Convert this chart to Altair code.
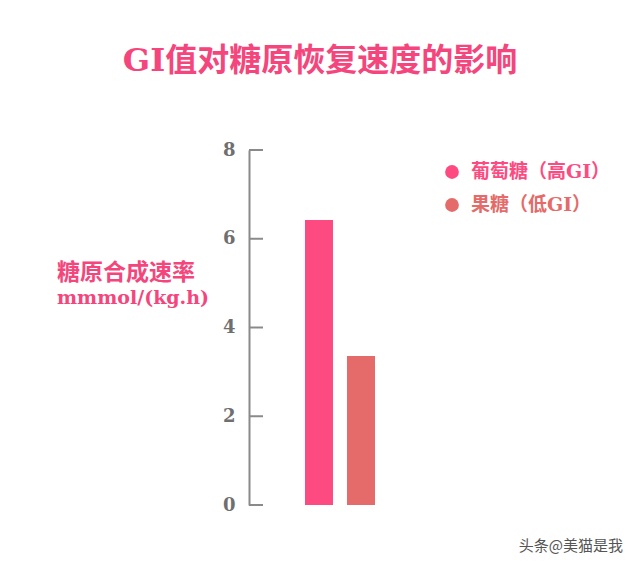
import altair as alt
import pandas as pd

categories = ["葡萄糖（高GI）", "果糖（低GI）"]
values = [6.42, 3.36]
colors = ["#FD4B82", "#E46B69"]
y_ticks = [0, 2, 4, 6, 8]

title_text = "GI值对糖原恢复速度的影响"
ylabel_lines = ["糖原合成速率", "mmmol/(kg.h)"]
watermark = "头条@美猫是我"

FONT = "DejaVu Serif, Noto Sans CJK SC"
PINK = "#F4467C"

df = pd.DataFrame({"cat": categories, "val": values})
ticks_df = pd.DataFrame({"t": y_ticks})

yscale = alt.Scale(domain=[0, 8], nice=False)
xscale = alt.Scale(domain=categories, range=[56, 126], paddingInner=1/3, paddingOuter=0)
cscale = alt.Scale(domain=categories, range=colors)

bars = alt.Chart(df).mark_bar().encode(
    x=alt.X("cat:N", scale=xscale, axis=None),
    y=alt.Y("val:Q", scale=yscale,
            axis=alt.Axis(values=y_ticks, title=None, grid=False, tickSize=0,
                          labelPadding=14, labelFont=FONT, labelFontWeight="bold",
                          labelFontSize=18, labelColor="#6f6f6f",
                          domainColor="#8a8a8a", domainWidth=2)),
    color=alt.Color("cat:N", scale=cscale, legend=None),
)

tick_rules = alt.Chart(ticks_df).mark_rule(color="#8a8a8a", strokeWidth=2).encode(
    y=alt.Y("t:Q", scale=yscale),
    x=alt.value(0), x2=alt.value(14),
)

layers = [bars, tick_rules]

# title
layers.append(alt.Chart(pd.DataFrame({"t": [title_text]})).mark_text(
    font=FONT, fontSize=32, fontWeight="bold", color=PINK, align="center", baseline="middle"
).encode(text="t:N", x=alt.value(71), y=alt.value(-89)))

# y label
for i, (line, fs) in enumerate(zip(ylabel_lines, [23, 19])):
    layers.append(alt.Chart(pd.DataFrame({"t": [line]})).mark_text(
        font=FONT, fontSize=fs, fontWeight="bold", color=PINK, align="left", baseline="middle"
    ).encode(text="t:N", x=alt.value(-192), y=alt.value(123 + 25 * i)))

# legend
for i, (cat, col) in enumerate(zip(categories, colors)):
    layers.append(alt.Chart(pd.DataFrame({"t": [cat]})).mark_point(
        shape="circle", filled=True, size=190, color=col, opacity=1
    ).encode(x=alt.value(203), y=alt.value(22 + 33 * i)))
    layers.append(alt.Chart(pd.DataFrame({"t": [cat]})).mark_text(
        font=FONT, fontSize=19, fontWeight="bold", color=col, align="left", baseline="middle"
    ).encode(text="t:N", x=alt.value(222), y=alt.value(22 + 33 * i)))

# watermark
layers.append(alt.Chart(pd.DataFrame({"t": [watermark]})).mark_text(
    font="Noto Sans CJK SC", fontSize=15, color="#555555", align="right", baseline="middle"
).encode(text="t:N", x=alt.value(374), y=alt.value(396)))

chart = alt.layer(*layers).properties(
    width=360, height=355,
    autosize=alt.AutoSizeParams(type="none"),
    padding={"left": 241, "top": 142, "right": 23, "bottom": 59},
    background="white",
).configure_view(stroke=None)

chart.save("out.html", embed_options={"renderer": "svg", "actions": False})
